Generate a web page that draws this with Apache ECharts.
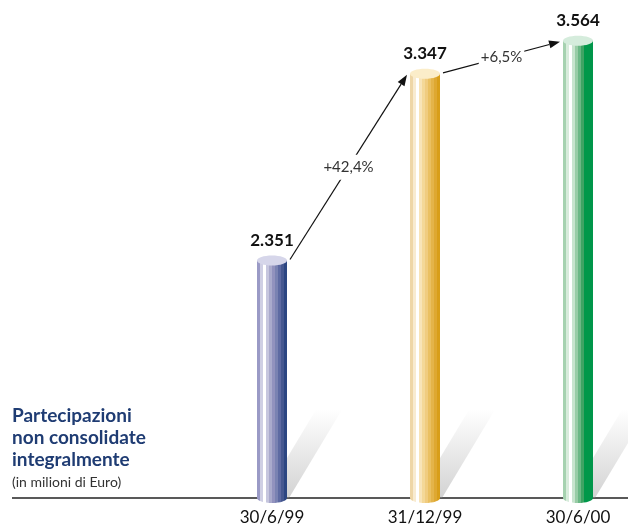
<!DOCTYPE html>
<html>
<head>
<meta charset="utf-8">
<title>Partecipazioni non consolidate integralmente</title>
<script src="https://cdn.jsdelivr.net/npm/echarts@6/dist/echarts.min.js"></script>
<style>
  html, body { margin: 0; padding: 0; background: #fff; }
  #chart { width: 628px; height: 526px; }
</style>
</head>
<body>
<div id="chart"></div>
<script>
// dati
const categories = ['30/6/99', '31/12/99', '30/6/00'];
const values = [2351, 3347, 3564];
const valueLabels = ['2.351', '3.347', '3.564'];
const growthLabels = ['+42,4%', '+6,5%'];

// colori dei cilindri, strisce da sinistra a destra
const stripes = [
  ['#9a9ac6', '#cfcfe4', '#ffffff', '#c6c6de', '#aaaacc', '#9292be', '#7a82b2', '#5e6aa2', '#465890', '#2c4682'],
  ['#eed6a6', '#f8ebd0', '#ffffff', '#f8e4b8', '#f4d898', '#f0cc80', '#eac062', '#e4b44a', '#dea832', '#d89e1a'],
  ['#a6d2b0', '#d8ecdc', '#ffffff', '#c8e4ce', '#98cca6', '#6cb886', '#3ea464', '#00984a', '#00984a', '#00964a']
];
const capColors = ['#d6d6ea', '#fbedc9', '#d5ecdc'];

const BAR_W = 30;
const FONT = 'Lato, "Open Sans", sans-serif';

// gradiente a strisce nette
function stripeGradient(cols) {
  const stops = [];
  const n = cols.length;
  cols.forEach(function (c, i) {
    stops.push({ offset: i / n, color: c });
    stops.push({ offset: (i + 1) / n, color: c });
  });
  return new echarts.graphic.LinearGradient(0, 0, 1, 0, stops);
}

function renderCylinder(params, api) {
  const i = api.value(0);
  const top = api.coord([i, api.value(1)]);
  const base = params.coordSys.y + params.coordSys.height;
  const cx = top[0];
  const xl = cx - BAR_W / 2, xr = cx + BAR_W / 2;
  const ry = 5;
  const sh = 88, dx = sh * 0.6; // ombra diagonale
  return {
    type: 'group',
    children: [
      {
        type: 'polygon',
        shape: { points: [[xl + 6, base], [xr + 2, base], [xr + 2 + dx, base - sh], [xl + 6 + dx, base - sh]] },
        style: {
          fill: new echarts.graphic.LinearGradient(0, 1, 0, 0, [
            { offset: 0, color: 'rgba(150,150,150,0.42)' },
            { offset: 1, color: 'rgba(150,150,150,0)' }
          ])
        }
      },
      { type: 'rect', shape: { x: xl, y: top[1], width: BAR_W, height: base - top[1] }, style: { fill: stripeGradient(stripes[i]) } },
      { type: 'ellipse', shape: { cx: cx, cy: base, rx: BAR_W / 2, ry: ry }, style: { fill: stripeGradient(stripes[i]) } },
      { type: 'ellipse', shape: { cx: cx, cy: top[1], rx: BAR_W / 2, ry: ry }, style: { fill: capColors[i] } },
      {
        type: 'text', x: cx, y: top[1] - 20,
        style: { text: valueLabels[i], align: 'center', verticalAlign: 'middle', fontSize: 17, fontWeight: 'bold', fontFamily: FONT, fill: '#111' }
      }
    ]
  };
}

function renderArrow(params, api) {
  const i = api.value(0);
  const a = api.coord([i, values[i]]);
  const b = api.coord([i + 1, values[i + 1]]);
  const x1 = a[0] + BAR_W / 2 + 3, y1 = a[1] - 1;
  const x2 = b[0] - BAR_W / 2 - 3, y2 = b[1] + 1;
  const ang = Math.atan2(y2 - y1, x2 - x1);
  const L = 11, H = 4;
  const bx = x2 - L * Math.cos(ang), by = y2 - L * Math.sin(ang);
  const px = -Math.sin(ang) * H, py = Math.cos(ang) * H;
  return {
    type: 'group',
    children: [
      { type: 'line', shape: { x1: x1, y1: y1, x2: bx, y2: by }, style: { stroke: '#111', lineWidth: 1.2 } },
      { type: 'polygon', shape: { points: [[x2, y2], [bx + px, by + py], [bx - px, by - py]] }, style: { fill: '#111' } },
      {
        type: 'text', x: (x1 + x2) / 2, y: (y1 + y2) / 2,
        style: { text: growthLabels[i], align: 'center', verticalAlign: 'middle', fontSize: 15, fontFamily: FONT, fill: '#333', backgroundColor: '#fff', padding: [5, 2] }
      }
    ]
  };
}

const myChart = echarts.init(document.getElementById('chart'));
myChart.setOption({
  animation: false,
  backgroundColor: '#fff',
  grid: { left: 272, width: 306, top: 20, bottom: 28 },
  xAxis: {
    type: 'category',
    data: categories,
    boundaryGap: false,
    axisLine: { show: false },
    axisTick: { show: false },
    axisLabel: { margin: 11, fontSize: 17, color: '#111', fontFamily: FONT }
  },
  yAxis: { type: 'log', min: 1500, max: 3706, show: false },
  graphic: [
    { type: 'line', z: 1, shape: { x1: 12, y1: 498, x2: 628, y2: 498 }, style: { stroke: '#222', lineWidth: 1.3 } },
    { type: 'text', x: 12, y: 416, style: { text: 'Partecipazioni', verticalAlign: 'middle', fontSize: 19, fontWeight: 'bold', fontFamily: FONT, fill: '#1f3c73' } },
    { type: 'text', x: 12, y: 438, style: { text: 'non consolidate', verticalAlign: 'middle', fontSize: 19, fontWeight: 'bold', fontFamily: FONT, fill: '#1f3c73' } },
    { type: 'text', x: 12, y: 460, style: { text: 'integralmente', verticalAlign: 'middle', fontSize: 19, fontWeight: 'bold', fontFamily: FONT, fill: '#1f3c73' } },
    { type: 'text', x: 12, y: 482, style: { text: '(in milioni di Euro)', verticalAlign: 'middle', fontSize: 14, fontFamily: FONT, fill: '#333' } }
  ],
  series: [
    {
      type: 'custom',
      renderItem: renderCylinder,
      data: values.map(function (v, i) { return [i, v]; })
    },
    {
      type: 'custom',
      z: 3,
      renderItem: renderArrow,
      data: growthLabels.map(function (g, i) { return [i, values[i]]; })
    }
  ]
});
window.addEventListener('resize', function () { myChart.resize(); });
</script>
</body>
</html>
